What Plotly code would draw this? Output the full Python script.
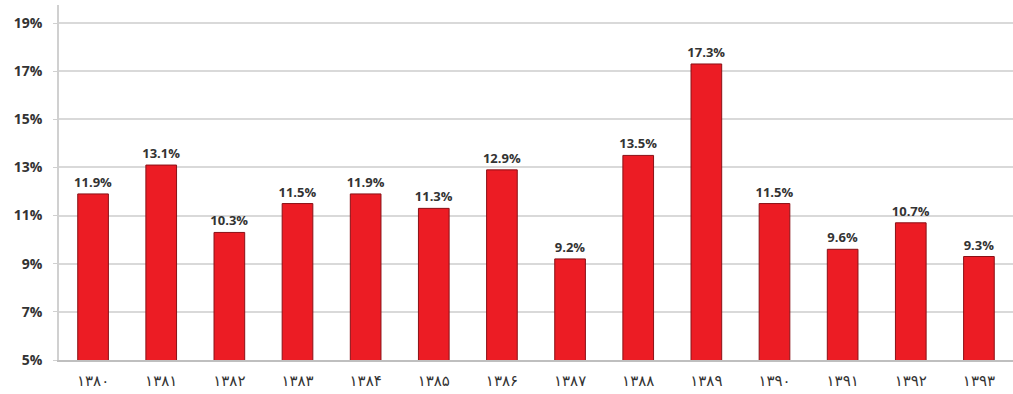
import plotly.graph_objects as go

years = ["۱۳۸۰", "۱۳۸۱", "۱۳۸۲", "۱۳۸۳", "۱۳۸۴", "۱۳۸۵", "۱۳۸۶",
         "۱۳۸۷", "۱۳۸۸", "۱۳۸۹", "۱۳۹۰", "۱۳۹۱", "۱۳۹۲", "۱۳۹۳"]
values = [11.9, 13.1, 10.3, 11.5, 11.9, 11.3, 12.9, 9.2, 13.5, 17.3, 11.5, 9.6, 10.7, 9.3]
y_ticks = [5, 7, 9, 11, 13, 15, 17, 19]
y_tick_labels = [f"{t}%" for t in y_ticks]

fig = go.Figure(go.Bar(
    x=years, y=values,
    marker=dict(color="#ec1c24", line=dict(color="#8a1016", width=1)),
    texttemplate="%{y:.1f}%", textposition="outside",
    constraintext="none",
    textfont=dict(family="Open Sans", size=13, color="#333333", weight="bold"),
    cliponaxis=False,
))

fig.update_layout(
    width=1013, height=394,
    margin=dict(l=59, r=0, t=5, b=34),
    plot_bgcolor="white", paper_bgcolor="white",
    bargap=0.55, showlegend=False,
    xaxis=dict(showline=True, linecolor="#bfbfbf", linewidth=1.5,
               tickfont=dict(family="DejaVu Sans", size=15, color="#333333"),
               ticks="", showgrid=False, ticklabelstandoff=6),
    yaxis=dict(range=[5, 19.75], tickvals=y_ticks, ticktext=y_tick_labels,
               showline=True, linecolor="#d0d0d0", linewidth=1.5,
               gridcolor="#d9d9d9", gridwidth=2,
               ticks="outside", ticklen=4, tickcolor="#d0d0d0",
               ticklabelstandoff=8,
               tickfont=dict(family="Open Sans", size=14, color="#333333", weight="bold")),
)

fig.write_html("out.html")
